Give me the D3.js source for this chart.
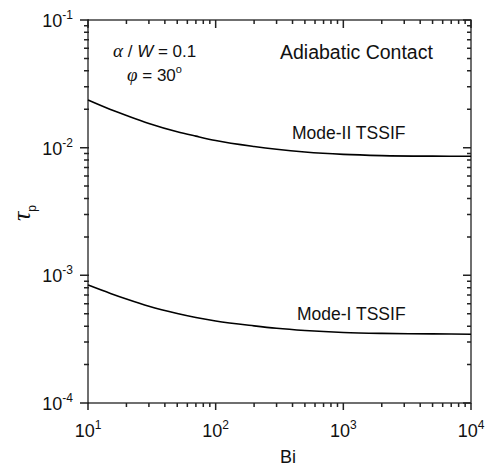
<!DOCTYPE html>
<html>
<head>
<meta charset="utf-8">
<script src="https://cdn.jsdelivr.net/npm/d3@7"></script>
<style>
body { margin: 0; background: #fff; }
text { font-family: "Liberation Sans", Arial, Helvetica, sans-serif; fill: #111; }
</style>
</head>
<body>
<svg id="chart" width="487" height="469"></svg>
<script>
// Biot number samples and tau_p
const bi = [10, 15, 20, 30, 50, 70, 100, 200, 300, 500, 1000, 2000, 5000, 10000];
const modeII = [0.02362, 0.01991, 0.01787, 0.01547, 0.01332, 0.01231, 0.01138, 0.01022, 0.00972, 0.00925, 0.00886, 0.00867, 0.00858, 0.00856];
const modeI = [8.41e-4, 7.22e-4, 6.53e-4, 5.73e-4, 5.03e-4, 4.68e-4, 4.39e-4, 4.02e-4, 3.85e-4, 3.70e-4, 3.57e-4, 3.51e-4, 3.48e-4, 3.46e-4];

const xExp = [1, 2, 3, 4];
const yExp = [-4, -3, -2, -1];

const margin = {top: 20, right: 16, bottom: 66, left: 88};
const W = 487, H = 469;
const iw = W - margin.left - margin.right;
const ih = H - margin.top - margin.bottom;

const svg = d3.select("#chart");
const g = svg.append("g").attr("transform", `translate(${margin.left},${margin.top})`);

const x = d3.scaleLog().domain([10, 10000]).range([0, iw]);
const y = d3.scaleLog().domain([1e-4, 1e-1]).range([ih, 0]);

function minorTicks(lo, hi) {
  const t = [];
  for (let e = lo; e < hi; e++) {
    for (let m = 2; m < 10; m++) t.push(m * Math.pow(10, e));
  }
  return t;
}
const xMajor = xExp.map(e => Math.pow(10, e));
const yMajor = yExp.map(e => Math.pow(10, e));
const xMinor = minorTicks(1, 4);
const yMinor = minorTicks(-4, -1);

// frame
g.append("rect").attr("width", iw).attr("height", ih)
  .attr("fill", "none").attr("stroke", "#333").attr("stroke-width", 1.4);

// tick marks: bottom + left outward, top + right inward
const tickG = g.append("g").attr("stroke", "#222").attr("stroke-width", 1.5).attr("fill", "none");
function addTicks(vals, fx, fy) {
  tickG.append("path").attr("d", vals.map(d => {
    const [x1, y1, x2, y2] = [fx(d)[0], fy(d)[0], fx(d)[1], fy(d)[1]];
    return `M${x1},${y1}L${x2},${y2}`;
  }).join(""));
}
addTicks(xMajor, d => [x(d), x(d)], () => [ih, ih + 7]);
addTicks(xMinor, d => [x(d), x(d)], () => [ih, ih + 4]);
addTicks(xMajor, d => [x(d), x(d)], () => [0, 8]);
addTicks(xMinor, d => [x(d), x(d)], () => [0, 4]);
addTicks(yMajor, () => [-8, 1], d => [y(d), y(d)]);
addTicks(yMinor, () => [-4, 1], d => [y(d), y(d)]);
addTicks(yMajor, () => [iw - 8, iw], d => [y(d), y(d)]);
addTicks(yMinor, () => [iw - 4, iw], d => [y(d), y(d)]);

// tick labels with superscript exponents
xExp.forEach(e => {
  const t = g.append("text")
    .attr("x", x(Math.pow(10, e)))
    .attr("y", ih + 34)
    .attr("text-anchor", "middle")
    .style("font-size", "18px");
  t.append("tspan").text("10");
  t.append("tspan").attr("dy", -8).style("font-size", "12px").text(e);
});
yExp.forEach(e => {
  const t = g.append("text")
    .attr("x", -15)
    .attr("y", y(Math.pow(10, e)) + 7)
    .attr("text-anchor", "end")
    .style("font-size", "18px");
  t.append("tspan").text("10");
  t.append("tspan").attr("dy", -8).style("font-size", "12px").text(e);
});

// axis titles
g.append("text").attr("x", 200).attr("y", ih + 60)
  .attr("text-anchor", "middle").style("font-size", "18px").text("Bi");

const yl = svg.append("text")
  .attr("transform", "translate(30,213) rotate(-90)")
  .attr("text-anchor", "middle");
yl.append("tspan").style("font-size", "26px").style("font-style", "italic")
  .style("font-family", "'Liberation Serif', serif").text("τ");
yl.append("tspan").attr("dy", 6).style("font-size", "12px").text("p");

// curves
const line = d3.line()
  .x((d, i) => x(bi[i]))
  .y(d => y(d))
  .curve(d3.curveMonotoneX);

[modeII, modeI].forEach(s => {
  g.append("path").datum(s)
    .attr("fill", "none").attr("stroke", "#000").attr("stroke-width", 1.6)
    .attr("d", line);
});

// annotations
const ann = svg.append("g").style("font-size", "17px");
const a1 = ann.append("text").attr("x", 113).attr("y", 57);
a1.append("tspan").style("font-style", "italic").style("font-family", "'Liberation Serif', serif")
  .style("font-size", "19px").text("α");
a1.append("tspan").text(" / ");
a1.append("tspan").style("font-style", "italic").text("W");
a1.append("tspan").text(" = 0.1");

const a2 = ann.append("text").attr("x", 127).attr("y", 81);
a2.append("tspan").style("font-style", "italic").style("font-family", "'Liberation Serif', serif")
  .style("font-size", "19px").text("φ");
a2.append("tspan").text(" = 30");
a2.append("tspan").attr("dy", -8).style("font-size", "11px").text("o");

ann.append("text").attr("x", 280).attr("y", 59).style("font-size", "19.5px").text("Adiabatic Contact");
ann.append("text").attr("x", 292).attr("y", 139).style("font-size", "17.5px").text("Mode-II TSSIF");
ann.append("text").attr("x", 297).attr("y", 320).style("font-size", "17.5px").text("Mode-I TSSIF");
</script>
</body>
</html>
